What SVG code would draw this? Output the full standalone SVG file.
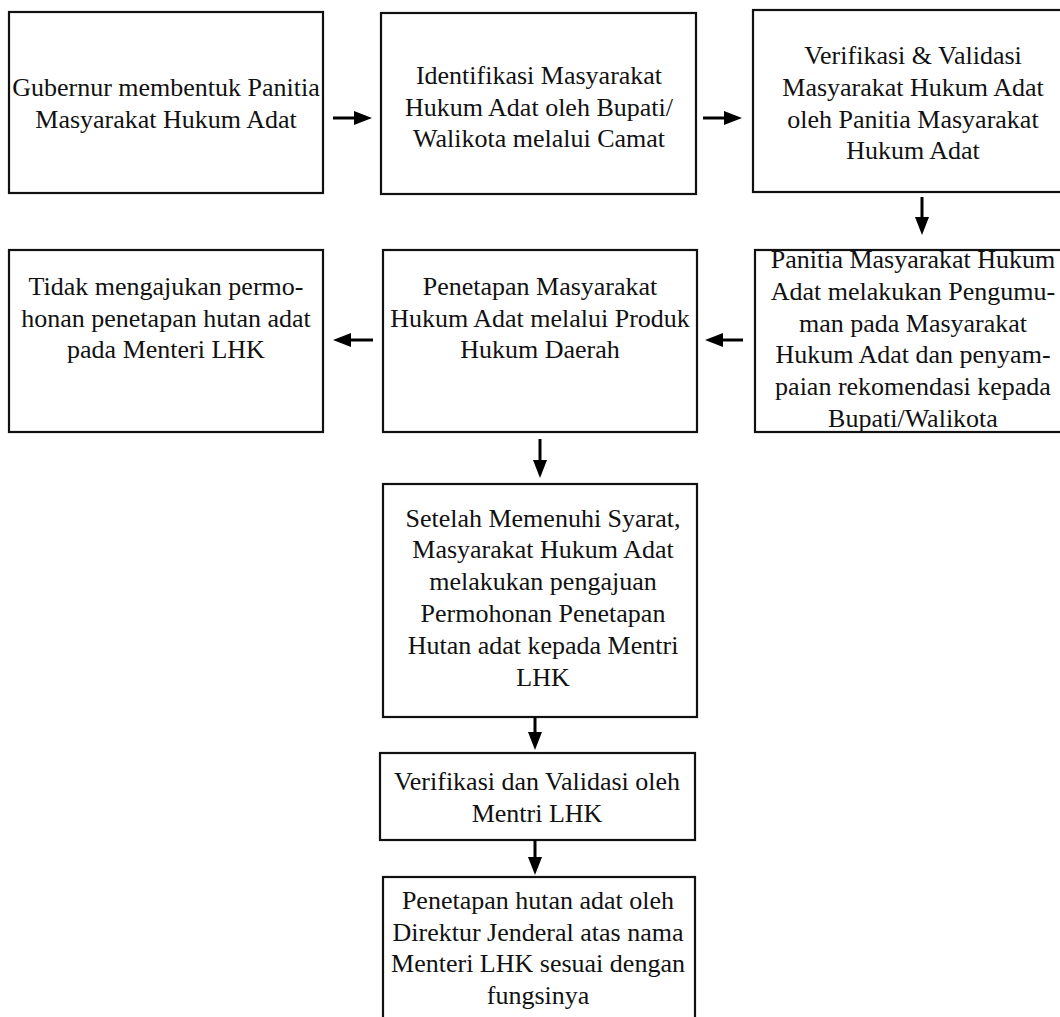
<svg xmlns="http://www.w3.org/2000/svg" width="1060" height="1017" viewBox="0 0 1060 1017">
<style>
.box{fill:#fff;stroke:#111;stroke-width:2.2}
.t{font-family:"Liberation Serif","Times New Roman",serif;font-size:26px;fill:#111;text-anchor:middle}
.c{stroke:#000;stroke-width:3;fill:none}
</style>
<defs>
<marker id="ah" markerUnits="userSpaceOnUse" markerWidth="20" markerHeight="14" refX="2" refY="7" orient="auto">
<path d="M0,0 L18,7 L0,14 z" fill="#000"/>
</marker>
</defs>
<rect width="1060" height="1017" fill="#fff"/>
<g id="n1"><rect class="box" x="9" y="12" width="314" height="181"/>
<text class="t" x="166"><tspan x="166" y="96">Gubernur membentuk Panitia</tspan><tspan x="166" y="128">Masyarakat Hukum Adat</tspan></text></g>
<g id="n2"><rect class="box" x="381" y="13" width="315" height="181"/>
<text class="t"><tspan x="539" y="84">Identifikasi Masyarakat</tspan><tspan x="539" y="116">Hukum Adat oleh Bupati/</tspan><tspan x="539" y="147">Walikota melalui Camat</tspan></text></g>
<g id="n3"><rect class="box" x="753" y="10" width="320" height="182"/>
<text class="t"><tspan x="913" y="64">Verifikasi &amp; Validasi</tspan><tspan x="913" y="96">Masyarakat Hukum Adat</tspan><tspan x="913" y="128">oleh Panitia Masyarakat</tspan><tspan x="913" y="159">Hukum Adat</tspan></text></g>
<g id="n4"><rect class="box" x="755" y="250" width="320" height="182"/>
<text class="t"><tspan x="913" y="268">Panitia Masyarakat Hukum</tspan><tspan x="913" y="300">Adat melakukan Pengumu-</tspan><tspan x="913" y="332">man pada Masyarakat</tspan><tspan x="913" y="363">Hukum Adat dan penyam-</tspan><tspan x="913" y="395">paian rekomendasi kepada</tspan><tspan x="913" y="427">Bupati/Walikota</tspan></text></g>
<g id="n5"><rect class="box" x="383" y="250" width="314" height="182"/>
<text class="t"><tspan x="540" y="295">Penetapan Masyarakat</tspan><tspan x="540" y="327">Hukum Adat melalui Produk</tspan><tspan x="540" y="358">Hukum Daerah</tspan></text></g>
<g id="n6"><rect class="box" x="9" y="250" width="314" height="182"/>
<text class="t"><tspan x="166" y="295">Tidak mengajukan permo-</tspan><tspan x="166" y="327">honan penetapan hutan adat</tspan><tspan x="166" y="358">pada Menteri LHK</tspan></text></g>
<g id="n7"><rect class="box" x="383" y="484" width="314" height="233"/>
<text class="t"><tspan x="543" y="527">Setelah Memenuhi Syarat,</tspan><tspan x="543" y="558">Masyarakat Hukum Adat</tspan><tspan x="543" y="590">melakukan pengajuan</tspan><tspan x="543" y="622">Permohonan Penetapan</tspan><tspan x="543" y="654">Hutan adat kepada Mentri</tspan><tspan x="543" y="686">LHK</tspan></text></g>
<g id="n8"><rect class="box" x="380" y="753" width="315" height="87"/>
<text class="t"><tspan x="537" y="790">Verifikasi dan Validasi oleh</tspan><tspan x="537" y="822">Mentri LHK</tspan></text></g>
<g id="n9"><rect class="box" x="383" y="877" width="312" height="160"/>
<text class="t"><tspan x="538" y="909">Penetapan hutan adat oleh</tspan><tspan x="538" y="941">Direktur Jenderal atas nama</tspan><tspan x="538" y="972">Menteri LHK sesuai dengan</tspan><tspan x="538" y="1004">fungsinya</tspan></text></g>
<g id="connectors">
<line class="c" x1="333" y1="118" x2="356" y2="118" marker-end="url(#ah)"/>
<line class="c" x1="703" y1="118" x2="726" y2="118" marker-end="url(#ah)"/>
<line class="c" x1="922" y1="197" x2="922" y2="219" marker-end="url(#ah)"/>
<line class="c" x1="743" y1="340" x2="721" y2="340" marker-end="url(#ah)"/>
<line class="c" x1="373" y1="340" x2="349" y2="340" marker-end="url(#ah)"/>
<line class="c" x1="540" y1="439" x2="540" y2="462" marker-end="url(#ah)"/>
<line class="c" x1="535" y1="717" x2="535" y2="734" marker-end="url(#ah)"/>
<line class="c" x1="535" y1="840" x2="535" y2="859" marker-end="url(#ah)"/>
</g>
</svg>
